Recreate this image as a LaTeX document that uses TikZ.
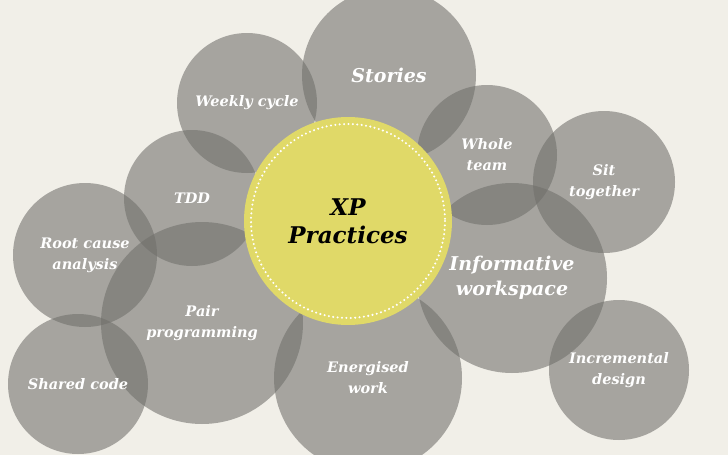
\documentclass[tikz,border=0pt]{standalone}
\usepackage{fontspec}
\setmainfont{DejaVu Serif}
\usepackage{xcolor}
\definecolor{paper}{RGB}{241,239,232}
\definecolor{bubble}{RGB}{112,111,107}
\definecolor{xpyellow}{RGB}{224,217,104}
\tikzset{
  practice/.style={circle, inner sep=0pt, fill=bubble, fill opacity=0.58, text opacity=1,
    text=white, align=center, font=\fontsize{14.5}{21}\selectfont\bfseries\itshape},
  bigpractice/.style={practice, font=\fontsize{19}{25}\selectfont\bfseries\itshape},
  hub/.style={circle, inner sep=0pt, fill=xpyellow, align=center,
    font=\fontsize{23}{28}\selectfont\bfseries\itshape}
}

\begin{document}
\begin{tikzpicture}[x=1pt, y=-1pt]
    \useasboundingbox[fill=paper] (0,0) rectangle (728,455);
    \node[practice, minimum size=140] (weekly) at (247,103) {Weekly cycle};
    \node[bigpractice, minimum size=174] (stories) at (389,75) {Stories};
    \node[practice, minimum size=140] (team) at (487,155) {Whole\\team};
    \node[practice, minimum size=142] (sit) at (604,182) {Sit\\together};
    \node[practice, minimum size=136] (tdd) at (192,198) {TDD};
    \node[practice, minimum size=144] (rootcause) at (85,255) {Root cause\\analysis};
    \node[practice, minimum size=202] (pair) at (202,323) {Pair\\programming};
    \node[practice, minimum size=188] (energised) at (368,378) {Energised\\work};
    \node[practice, minimum size=140] (shared) at (78,384) {Shared code};
    \node[bigpractice, minimum size=190] (workspace) at (512,278) {Informative\\workspace};
    \node[practice, minimum size=140] (incremental) at (619,370) {Incremental\\design};
    % centre
    \node[hub, minimum size=208] (xp) at (348,221) {XP\\Practices};
    \draw[white, line width=2.3pt, line cap=round, dash pattern=on 0pt off 4.4pt] (xp.center) circle[radius=97];
\end{tikzpicture}
\end{document}
